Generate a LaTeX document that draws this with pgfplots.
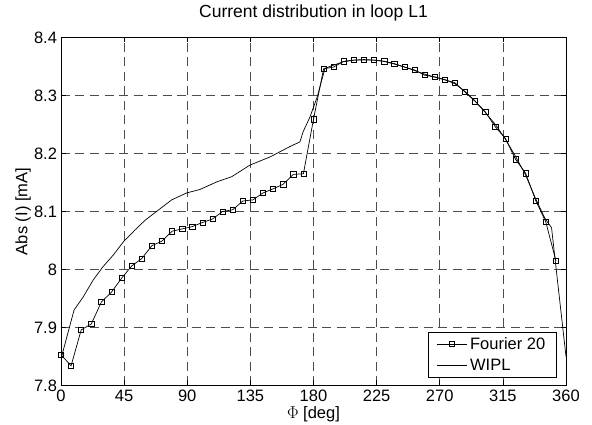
\documentclass[border=0pt]{standalone}
\usepackage{pgfplots}
\pgfplotsset{compat=1.18}
\usepackage{fontspec}
\setmainfont{Liberation Sans}

\begin{document}
\begin{tikzpicture}
\begin{axis}[
    scale only axis,
    width=505pt, height=348pt,
    xmin=0, xmax=360, ymin=7.8, ymax=8.4,
    xtick={0,45,...,360},
    ytick={7.8,7.9,8,8.1,8.2,8.3,8.4},
    tick align=inside,
    major tick length=5pt,
    tick style={black, line width=0.6pt},
    axis line style={line width=0.8pt},
    grid=major,
    major grid style={black!70, line width=0.7pt, dash pattern=on 9pt off 5.5pt},
    /pgf/number format/assume math mode=true,
    tick label style={font=\fontsize{16.5}{19}\selectfont},
    yticklabel style={xshift=-0.5pt},
    xticklabel style={yshift=-1pt},
    title={Current distribution in loop L1},
    title style={font=\fontsize{17.5}{20}\selectfont, at={(axis description cs:0.5,1)}, anchor=center, yshift=18.5pt},
    xlabel={$\Phi$ [deg]},
    xlabel style={font=\fontsize{16.5}{19}\selectfont, at={(axis description cs:0.5,0)}, anchor=center, yshift=-29pt},
    ylabel={Abs (I) [mA]},
    ylabel style={font=\fontsize{16.5}{19}\selectfont, at={(axis description cs:0,0.5)}, anchor=center, yshift=38pt},
    legend style={font=\fontsize{16.5}{19}\selectfont, at={(axis description cs:1,0)}, anchor=south east,
        xshift=-9.3pt, yshift=8.2pt, draw=black, line width=0.7pt,
        inner xsep=8pt, inner ysep=2pt, nodes={inner sep=3pt}, row sep=2.5pt},
    /tikz/every even column/.append style={column sep=5pt},
    legend cell align=left,
    legend image code/.code={
        \draw[mark repeat=2, mark phase=2, #1] plot coordinates {(0pt,0pt) (15pt,0pt) (30pt,0pt)};
    },
]
% Fourier 20 series, sampled every 7.2 deg
\addplot[black, line width=0.7pt, mark=square, mark size=2.6pt, mark options={solid, line width=0.6pt}]
coordinates {
(0,7.853) (7.2,7.834) (14.4,7.896) (21.6,7.906) (28.8,7.944) (36,7.961)
(43.2,7.985) (50.4,8.006) (57.6,8.019) (64.8,8.041) (72,8.049) (79.2,8.066)
(86.4,8.070) (93.6,8.074) (100.8,8.081) (108,8.087) (115.2,8.100) (122.4,8.103)
(129.6,8.118) (136.8,8.120) (144,8.132) (151.2,8.139) (158.4,8.147) (165.6,8.164)
(172.8,8.165) (180,8.259) (187.2,8.346) (194.4,8.349) (201.6,8.359) (208.8,8.361)
(216,8.362) (223.2,8.361) (230.4,8.359) (237.6,8.355) (244.8,8.349) (252,8.344)
(259.2,8.335) (266.4,8.332) (273.6,8.327) (280.8,8.322) (288,8.306) (295.2,8.290)
(302.4,8.272) (309.6,8.246) (316.8,8.226) (324,8.190) (331.2,8.166) (338.4,8.119)
(345.6,8.082) (352.8,8.015)
};
\addlegendentry{Fourier 20}
% WIPL reference
\addplot[black, line width=0.7pt, mark=none]
coordinates {
(0,7.846) (9.3,7.930) (15.9,7.953) (23,7.982) (30,8.005) (37.3,8.025)
(44.6,8.048) (52.7,8.068) (60,8.085) (67,8.098) (78.9,8.120) (89.6,8.132)
(99.1,8.138) (111,8.151) (121.7,8.160) (134.7,8.180) (149,8.194) (163.2,8.212)
(170.3,8.220) (172.7,8.238) (177.5,8.263) (182.7,8.298) (188.2,8.347)
(194,8.352) (201,8.358) (209,8.361) (216,8.361) (223,8.361) (230,8.359)
(238,8.354) (245,8.349) (252,8.343) (259,8.337) (266,8.332) (274,8.327)
(281,8.320) (288,8.307) (295,8.291) (302,8.272) (310,8.249) (317,8.224)
(324,8.195) (331,8.164) (338,8.124) (345,8.088) (349.7,8.072) (360,7.850)
};
\addlegendentry{WIPL}
\end{axis}
\pgfresetboundingbox
\path ([shift={(-61pt,-39.5pt)}]current axis.south west) rectangle ([shift={(26pt,37.5pt)}]current axis.north east);
\end{tikzpicture}
\end{document}
